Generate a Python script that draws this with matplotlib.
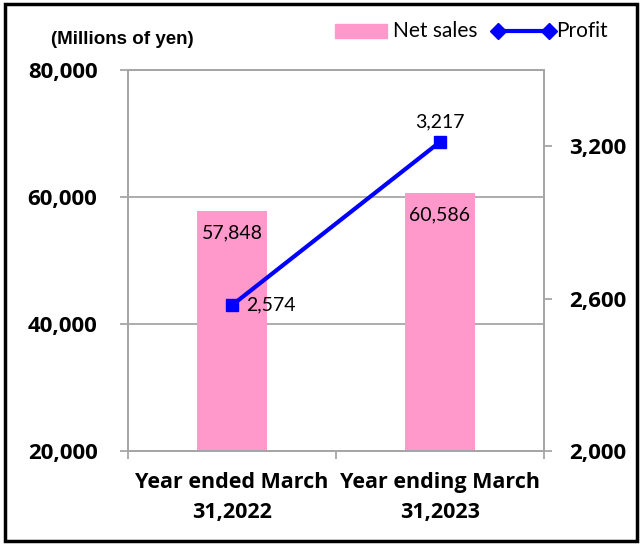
import matplotlib
matplotlib.use("Agg")
import matplotlib.pyplot as plt
from matplotlib.patches import Rectangle
from matplotlib.lines import Line2D

categories = ["Year ended March\n31,2022", "Year ending March\n31,2023"]
net_sales = [57848, 60586]
profit = [2574, 3217]
left_ticks = [20000, 40000, 60000, 80000]
right_ticks = [2000, 2600, 3200]

pink = "#FF99CC"
blue = "#0000FF"
grey = "#A6A6A6"
W, H = 644, 545
bold_font = "Open Sans"

fig = plt.figure(figsize=(W / 100, H / 100), dpi=100)
ax = fig.add_axes([128 / W, 1 - 451 / H, 416 / W, 381 / H])
ax2 = ax.twinx()

x = list(range(len(categories)))
ax.bar(x, net_sales, width=0.332, color=pink, zorder=2)
ax.set_xlim(-0.5, 1.5)
ax.set_ylim(20000, 80000)
ax.set_yticks(left_ticks)
ax.set_yticklabels([f"{v:,}" for v in left_ticks], fontsize=16, fontweight="bold",
                   family=bold_font)
ax.yaxis.grid(True, color=grey, linewidth=1.3, zorder=0)
ax.set_axisbelow(True)
ax.set_xticks([-0.5, 0.5, 1.5])
ax.set_xticklabels([])
ax.set_xticks(x, minor=True)
ax.set_xticklabels(categories, minor=True, fontsize=15.5, fontweight="bold",
                   family=bold_font, linespacing=1.6)
ax.tick_params(axis="x", which="minor", length=0, pad=15)
ax.tick_params(axis="x", which="major", length=6, color=grey, width=1.3)
ax.tick_params(axis="y", length=6, color=grey, width=1.3, pad=16)

ax2.plot(x, profit, color=blue, linewidth=3, marker="s", markersize=8, zorder=3)
ax2.set_ylim(2000, 3500)
ax2.set_yticks(right_ticks)
ax2.set_yticklabels([f"{v:,}" for v in right_ticks], fontsize=16, fontweight="bold",
                    family=bold_font)
ax2.tick_params(axis="y", length=6, color=grey, width=1.3, pad=12)

for a in (ax, ax2):
    for s in a.spines.values():
        s.set_color(grey)
        s.set_linewidth(1.3)

for xi, v in zip(x, net_sales):
    ax.annotate(f"{v:,}", (xi, v), xytext=(0, -22), textcoords="offset pixels",
                ha="center", va="center", fontsize=14, family="Lato", zorder=4)
ax2.annotate(f"{profit[0]:,}", (x[0], profit[0]), xytext=(14, 0), textcoords="offset pixels",
             ha="left", va="center", fontsize=14, family="Lato")
ax2.annotate(f"{profit[1]:,}", (x[1], profit[1]), xytext=(0, 20), textcoords="offset pixels",
             ha="center", va="center", fontsize=14, family="Lato")

fig.text(51 / W, 1 - 39 / H, "(Millions of yen)", fontsize=13.5, fontweight="bold",
         family="Liberation Sans", ha="left", va="center")

# legend drawn in figure pixels
ly = 1 - 31 / H
fig.patches.append(Rectangle((335 / W, 1 - 38 / H), 52 / W, 14 / H, color=pink,
                             transform=fig.transFigure))
fig.text(393 / W, ly, "Net sales", fontsize=15, family="Lato", ha="left", va="center")
fig.lines.append(Line2D([498 / W, 549 / W], [ly, ly], color=blue, linewidth=3,
                        marker="D", markersize=8, transform=fig.transFigure))
fig.text(556 / W, ly, "Profit", fontsize=15, family="Lato", ha="left", va="center")

fig.patches.append(Rectangle((5 / W, 4 / H), 632 / W, 537 / H, fill=False,
                             edgecolor="black", linewidth=2.5, transform=fig.transFigure))

fig.savefig("out.png", dpi=100)
